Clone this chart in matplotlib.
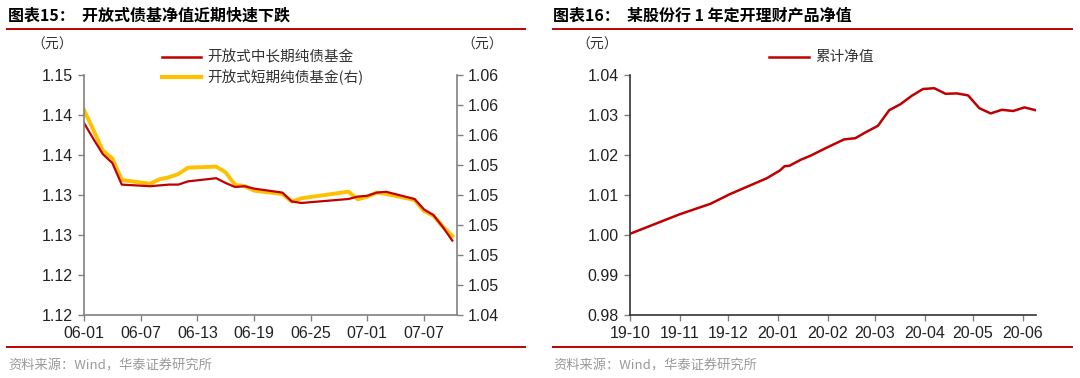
import matplotlib
matplotlib.use('Agg')
import matplotlib.pyplot as plt
import matplotlib.dates as mdates
import pandas as pd

plt.rcParams['font.family'] = ['Liberation Sans', 'Noto Sans CJK SC', 'DejaVu Sans']
cjk = ['Noto Sans CJK SC', 'DejaVu Sans']

# 图表15 data
dates15 = ['2020-06-01', '2020-06-02', '2020-06-03', '2020-06-04', '2020-06-05',
           '2020-06-08', '2020-06-09', '2020-06-10', '2020-06-11', '2020-06-12',
           '2020-06-15', '2020-06-16', '2020-06-17', '2020-06-18', '2020-06-19',
           '2020-06-22', '2020-06-23', '2020-06-24', '2020-06-29', '2020-06-30',
           '2020-07-01', '2020-07-02', '2020-07-03', '2020-07-06', '2020-07-07',
           '2020-07-08', '2020-07-09', '2020-07-10']
mid_long = [1.1390, 1.1370, 1.1351, 1.1340, 1.1313,
            1.1311, 1.1312, 1.1313, 1.1313, 1.1317,
            1.1321, 1.1315, 1.1310, 1.1311, 1.1308,
            1.1303, 1.1292, 1.1290, 1.1295, 1.1298,
            1.1299, 1.1303, 1.1304, 1.1295, 1.1282,
            1.1275, 1.1260, 1.1243]
short = [1.05767, 1.05633, 1.05495, 1.05444, 1.05300,
         1.05275, 1.05305, 1.05318, 1.05340, 1.05382,
         1.05389, 1.05351, 1.05267, 1.05260, 1.05229,
         1.05207, 1.05156, 1.05178, 1.05222, 1.05171,
         1.05189, 1.05216, 1.05207, 1.05167, 1.05093,
         1.05062, 1.04989, 1.04927]
left_ticks = [1.115, 1.120, 1.125, 1.130, 1.135, 1.140, 1.145]
left_ticklabels = ['1.12', '1.12', '1.13', '1.13', '1.14', '1.14', '1.15']
right_ticks = [1.044, 1.046, 1.048, 1.050, 1.052, 1.054, 1.056, 1.058, 1.060]
right_ticklabels = ['1.04', '1.05', '1.05', '1.05', '1.05', '1.05', '1.06', '1.06', '1.06']
x_ticks15 = ['2020-06-01', '2020-06-07', '2020-06-13', '2020-06-19', '2020-06-25',
             '2020-07-01', '2020-07-07']

# 图表16 data
dates16 = ['2019-10-01', '2019-11-01', '2019-11-20', '2019-12-02', '2019-12-25',
           '2020-01-02', '2020-01-05', '2020-01-08', '2020-01-15', '2020-01-21',
           '2020-01-31', '2020-02-11', '2020-02-18', '2020-02-24', '2020-03-03',
           '2020-03-10', '2020-03-17', '2020-03-24', '2020-03-31', '2020-04-07',
           '2020-04-14', '2020-04-21', '2020-04-28', '2020-05-05', '2020-05-12',
           '2020-05-19', '2020-05-26', '2020-06-02', '2020-06-09']
nav = [1.0003, 1.0052, 1.0078, 1.0102, 1.0142,
       1.0161, 1.0172, 1.0173, 1.0188, 1.0198,
       1.0218, 1.0239, 1.0242, 1.0256, 1.0273,
       1.0312, 1.0327, 1.0348, 1.0365, 1.0367,
       1.0353, 1.0354, 1.0349, 1.0317, 1.0304,
       1.0313, 1.0310, 1.0319, 1.0312]

red = '#C00000'
yellow = '#FFC000'
spine_c = '#808080'

fig = plt.figure(figsize=(10.8, 3.78), dpi=100)
W, H = 1080, 378


def fx(px):
    return px / W


def fy(py):
    return 1 - py / H


def style(ax):
    for s in ['top', 'right']:
        ax.spines[s].set_visible(False)
    for s in ['left', 'bottom', 'right']:
        ax.spines[s].set_color(spine_c)
        ax.spines[s].set_linewidth(1.2)
    ax.tick_params(direction='out', length=4, width=1, color=spine_c,
                   labelsize=11.5, labelcolor='#222222', pad=4)


# ---- left chart ----
ax1 = fig.add_axes([fx(84), fy(315), fx(373), 240 / H])
d15 = pd.to_datetime(dates15)
ax1.plot(d15, mid_long, color=red, lw=1.6)
ax1.set_ylim(1.115, 1.145)
ax1.set_yticks(left_ticks)
ax1.set_yticklabels(left_ticklabels)
ax1.set_xlim(pd.Timestamp('2020-06-01'), pd.Timestamp('2020-06-01') + pd.Timedelta(days=39.5))
ax1.set_xticks(pd.to_datetime(x_ticks15))
ax1.xaxis.set_major_formatter(mdates.DateFormatter('%m-%d'))
style(ax1)

ax2 = ax1.twinx()
ax2.plot(d15, short, color=yellow, lw=2.8)
ax2.set_ylim(1.044, 1.060)
ax2.set_yticks(right_ticks)
ax2.set_yticklabels(right_ticklabels)
style(ax2)
ax2.spines['right'].set_visible(True)
ax2.spines['left'].set_visible(False)
ax2.spines['bottom'].set_visible(False)
ax1.set_zorder(ax2.get_zorder() + 1)
ax1.patch.set_visible(False)

# ---- right chart ----
ax3 = fig.add_axes([fx(630), fy(315), fx(405.7), 240 / H])
ax3.plot(pd.to_datetime(dates16), nav, color=red, lw=1.8)
ax3.set_ylim(0.98, 1.04)
ax3.set_yticks([0.98, 0.99, 1.00, 1.01, 1.02, 1.03, 1.04])
ax3.yaxis.set_major_formatter(matplotlib.ticker.FormatStrFormatter('%.2f'))
ax3.set_xlim(pd.Timestamp('2019-10-01'), pd.Timestamp('2020-06-09'))
ax3.xaxis.set_major_locator(mdates.MonthLocator())
ax3.xaxis.set_major_formatter(mdates.DateFormatter('%y-%m'))
style(ax3)
ax3.spines['left'].set_color('#333333')
ax3.spines['bottom'].set_color('#333333')

# ---- titles, rules, notes ----
fig.text(fx(8), fy(16), '图表15：  开放式债基净值近期快速下跌', family=cjk,
         fontsize=11.5, fontweight='bold', va='center', ha='left')
fig.text(fx(553), fy(16), '图表16：  某股份行 1 年定开理财产品净值', family=cjk,
         fontsize=11.5, fontweight='bold', va='center', ha='left')
for x0, x1 in [(7, 525), (553, 1072)]:
    for yy in (28.5, 347):
        fig.add_artist(plt.Line2D([fx(x0), fx(x1)], [fy(yy), fy(yy)],
                                  color=red, lw=1.4, transform=fig.transFigure))
for xs in (8, 553):
    fig.text(fx(xs), fy(366), '资料来源：Wind，华泰证券研究所', family=cjk,
             fontsize=9.5, color='#999999', va='center', ha='left')

# unit labels
fig.text(fx(52), fy(45), '（元）', family=cjk, fontsize=10, color='#333333',
         va='center', ha='center')
fig.text(fx(482), fy(45), '（元）', family=cjk, fontsize=10, color='#333333',
         va='center', ha='center')
fig.text(fx(597), fy(45), '（元）', family=cjk, fontsize=10, color='#333333',
         va='center', ha='center')

# legends
fig.add_artist(plt.Line2D([fx(162), fx(201)], [fy(57), fy(57)], color=red, lw=1.8,
                          transform=fig.transFigure))
fig.text(fx(207), fy(57), '开放式中长期纯债基金', family=cjk, fontsize=10.5,
         color='#333333', va='center', ha='left')
fig.add_artist(plt.Line2D([fx(162), fx(201)], [fy(77), fy(77)], color=yellow, lw=3,
                          transform=fig.transFigure))
fig.text(fx(207), fy(77), '开放式短期纯债基金(右)', family=cjk, fontsize=10.5,
         color='#333333', va='center', ha='left')
fig.add_artist(plt.Line2D([fx(769), fx(809)], [fy(57), fy(57)], color=red, lw=1.8,
                          transform=fig.transFigure))
fig.text(fx(815), fy(57), '累计净值', family=cjk, fontsize=10.5,
         color='#333333', va='center', ha='left')

fig.savefig('out.png', dpi=100)
